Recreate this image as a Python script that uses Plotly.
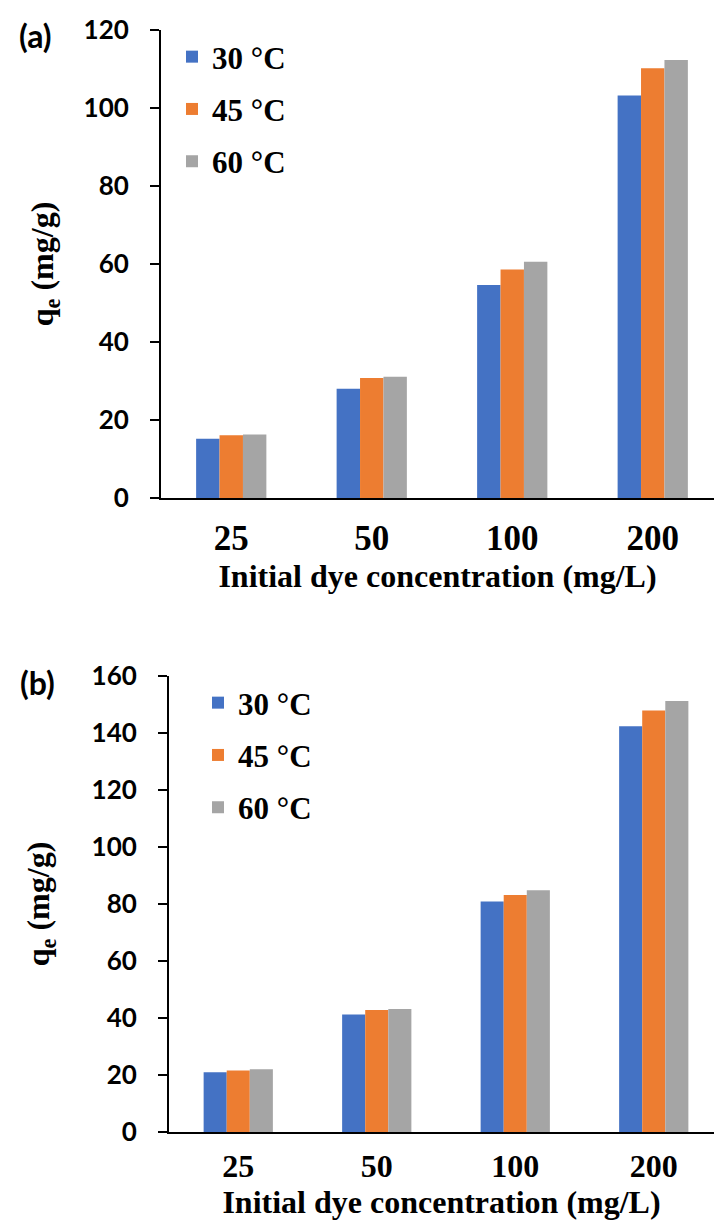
import plotly.graph_objects as go

categories = ["25", "50", "100", "200"]
series_names = ["30 °C", "45 °C", "60 °C"]
colors = ["#4472C4", "#ED7D31", "#A5A5A5"]

# Panel (a)
qe_a_30 = [15.2, 28.0, 54.6, 103.2]
qe_a_45 = [16.1, 30.8, 58.6, 110.2]
qe_a_60 = [16.3, 31.1, 60.6, 112.3]

# Panel (b)
qe_b_30 = [21.0, 41.2, 80.9, 142.4]
qe_b_45 = [21.6, 42.8, 83.2, 147.9]
qe_b_60 = [22.0, 43.2, 84.8, 151.2]

yticks_a = [0, 20, 40, 60, 80, 100, 120]
yticks_b = [0, 20, 40, 60, 80, 100, 120, 140, 160]

W, H = 714, 1223

fig = go.Figure()

for i, (name, vals) in enumerate(zip(series_names, [qe_a_30, qe_a_45, qe_a_60])):
    fig.add_trace(go.Bar(x=categories, y=vals, name=name, marker=dict(color=colors[i], line=dict(width=0)),
                         xaxis="x", yaxis="y", legend="legend", legendgroup="a%d" % i))
for i, (name, vals) in enumerate(zip(series_names, [qe_b_30, qe_b_45, qe_b_60])):
    fig.add_trace(go.Bar(x=categories, y=vals, name=name, marker=dict(color=colors[i], line=dict(width=0)),
                         xaxis="x2", yaxis="y2", legend="legend2", legendgroup="b%d" % i))

def py(px):
    return 1 - px / H

def pxx(px):
    return px / W

tickfont_y = dict(family="Lato", size=26, color="black", weight="bold")
tickfont_x = dict(family="Liberation Serif", size=35, color="black", weight="bold")
tickfont_x2 = dict(family="Liberation Serif", size=32, color="black", weight="bold")
titlefont = dict(family="Liberation Serif", size=32, color="black", weight="bold")
ytitlefont = dict(family="Liberation Serif", size=32, color="black", weight="bold")
legfont = dict(family="Liberation Serif", size=31, color="black", weight="bold")

common_x = dict(type="category", showline=True, linecolor="black", linewidth=2, ticks="",
                showgrid=False, zeroline=False, automargin=False)
common_y = dict(showline=True, linecolor="black", linewidth=2, ticks="outside", ticklen=9,
                tickwidth=2, tickcolor="black", tickfont=tickfont_y, showgrid=False, zeroline=False,
                ticklabelstandoff=16, automargin=False)

xtitle = "Initial dye concentration (mg/L)"

fig.update_layout(
    width=W, height=H, margin=dict(l=0, r=0, t=0, b=0, autoexpand=False),
    paper_bgcolor="white", plot_bgcolor="white",
    barmode="group", bargap=0.5, bargroupgap=0,
    xaxis=dict(domain=[pxx(161), 1], anchor="y", range=[-0.5, 3.436], tickfont=tickfont_x,
               ticklabelstandoff=8, title=dict(text=xtitle, font=titlefont, standoff=0), **common_x),
    yaxis=dict(domain=[py(498), py(30)], anchor="x", range=[0, 120], tickvals=yticks_a, **common_y,
               title=dict(text="q<sub>e</sub> (mg/g)", font=ytitlefont, standoff=20)),
    xaxis2=dict(domain=[pxx(169), 1], anchor="y2", range=[-0.5, 3.435], tickfont=tickfont_x2,
                ticklabelstandoff=5, title=dict(text=xtitle, font=titlefont, standoff=1), **common_x),
    yaxis2=dict(domain=[py(1132), py(676)], anchor="x2", range=[0, 160], tickvals=yticks_b, **common_y,
                title=dict(text="q<sub>e</sub> (mg/g)", font=ytitlefont, standoff=32)),
    legend=dict(x=pxx(172), y=py(30), xanchor="left", yanchor="top", font=legfont,
                bgcolor="rgba(0,0,0,0)", traceorder="grouped", tracegroupgap=9),
    legend2=dict(x=pxx(198), y=py(676), xanchor="left", yanchor="top", font=legfont,
                 bgcolor="rgba(0,0,0,0)", traceorder="grouped", tracegroupgap=9),
    showlegend=True,
    annotations=[
        dict(text="(a)", x=pxx(35), y=py(35), xref="paper", yref="paper", showarrow=False,
             xanchor="center", yanchor="middle",
             font=dict(family="Lato", size=32, color="black", weight="bold")),
        dict(text="(b)", x=pxx(37), y=py(682), xref="paper", yref="paper", showarrow=False,
             xanchor="center", yanchor="middle",
             font=dict(family="Lato", size=32, color="black", weight="bold")),
    ],
)

fig.write_html("out.html")
